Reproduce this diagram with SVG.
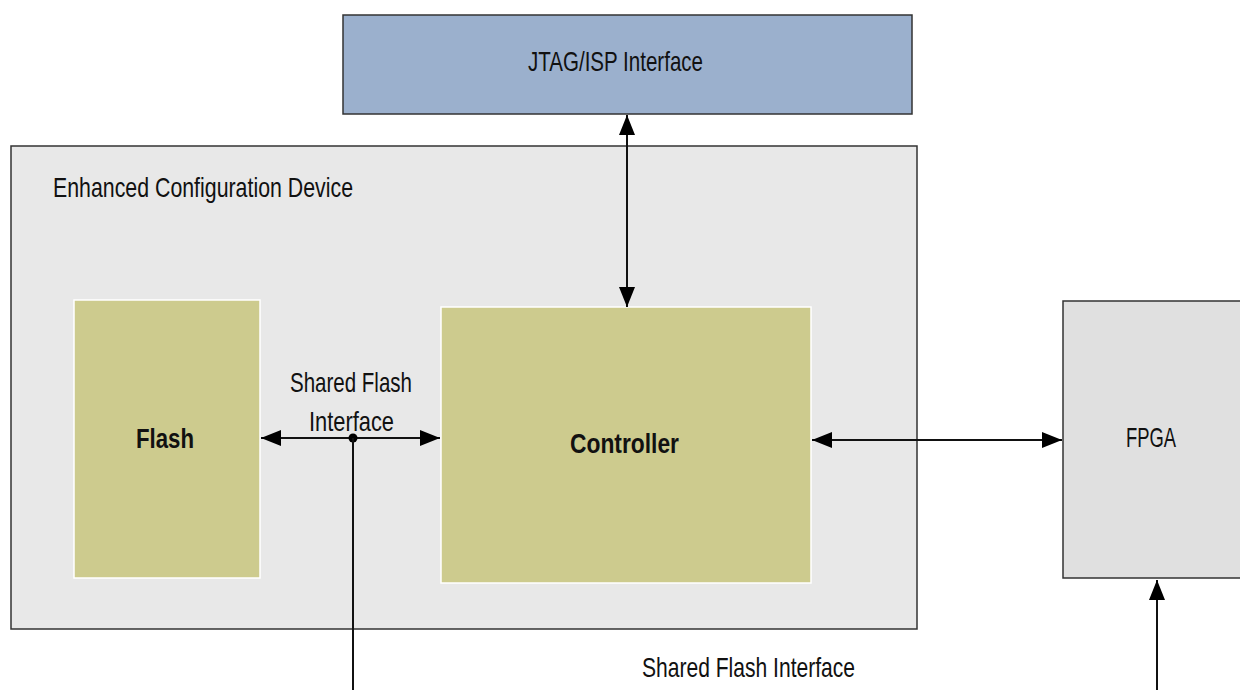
<svg xmlns="http://www.w3.org/2000/svg" width="1240" height="690" viewBox="0 0 1240 690">
<style>
text{font-family:"Liberation Sans Narrow","Liberation Sans",Arial,sans-serif;font-size:28px;fill:#111;}
.b{font-weight:bold;}
.ln{stroke:#111;stroke-width:2;fill:none;}
</style>
<defs>
<marker id="ah" viewBox="0 0 20 16" refX="20" refY="8" markerWidth="20" markerHeight="16" markerUnits="userSpaceOnUse" orient="auto-start-reverse">
<path d="M0,0 L20,8 L0,16 Z" fill="#000"/>
</marker>
</defs>
<rect width="1240" height="690" fill="#fff"/>
<g id="jtag">
<rect x="343" y="15" width="569" height="99" fill="#9bb0cd" stroke="#333" stroke-width="1.5"/>
<text x="528" y="71" textLength="175" lengthAdjust="spacingAndGlyphs">JTAG/ISP Interface</text>
</g>
<g id="ecd">
<rect x="11" y="146" width="906" height="483" fill="#e8e8e8" stroke="#333" stroke-width="1.5"/>
<text x="53" y="197" textLength="300" lengthAdjust="spacingAndGlyphs">Enhanced Configuration Device</text>
</g>
<g id="flash">
<rect x="74" y="300" width="186" height="278" fill="#cdcb8e" stroke="#fff" stroke-width="1.5"/>
<text class="b" x="136" y="448" textLength="58" lengthAdjust="spacingAndGlyphs">Flash</text>
</g>
<g id="controller">
<rect x="441" y="307" width="370" height="276" fill="#cdcb8e" stroke="#fff" stroke-width="1.5"/>
<text class="b" x="570" y="453" textLength="109" lengthAdjust="spacingAndGlyphs">Controller</text>
</g>
<g id="fpga">
<rect x="1063" y="301" width="190" height="277" fill="#e0e0e0" stroke="#333" stroke-width="1.5"/>
<text x="1126" y="447" textLength="50" lengthAdjust="spacingAndGlyphs">FPGA</text>
</g>
<g id="connectors">
<line class="ln" x1="627" y1="115" x2="627" y2="307" marker-start="url(#ah)" marker-end="url(#ah)"/>
<line class="ln" x1="261" y1="438" x2="440" y2="438" marker-start="url(#ah)" marker-end="url(#ah)"/>
<circle cx="353" cy="438" r="4.5" fill="#000"/>
<line class="ln" x1="353" y1="438" x2="353" y2="690"/>
<line class="ln" x1="812" y1="440" x2="1062" y2="440" marker-start="url(#ah)" marker-end="url(#ah)"/>
<line class="ln" x1="1157" y1="690" x2="1157" y2="580" marker-end="url(#ah)"/>
<text x="290" y="392" textLength="122" lengthAdjust="spacingAndGlyphs">Shared Flash</text>
<text x="309" y="431" textLength="85" lengthAdjust="spacingAndGlyphs">Interface</text>
<text x="642" y="677" textLength="213" lengthAdjust="spacingAndGlyphs">Shared Flash Interface</text>
</g>
</svg>
